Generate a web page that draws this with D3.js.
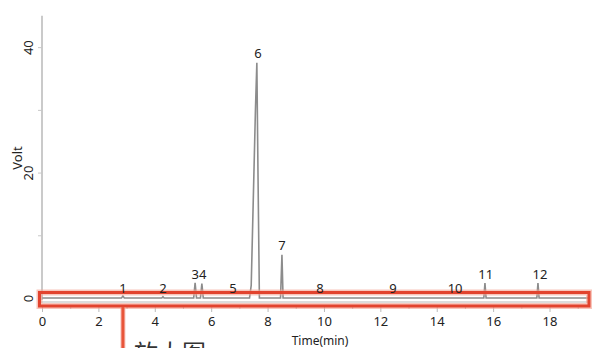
<!DOCTYPE html>
<html><head><meta charset="utf-8">
<script src="https://cdn.jsdelivr.net/npm/d3@7"></script>
<style>body{margin:0;background:#fff;}svg{display:block;}</style>
</head><body>
<script>
// Chromatogram trace points (time in min, signal in Volt)
const traceTime = [0, 2.82, 2.87, 2.92, 4.25, 4.29, 4.33, 5.38, 5.43, 5.48, 5.62, 5.67, 5.72, 7.36, 7.42, 7.57, 7.62, 7.66, 7.71, 8.46, 8.51, 8.55, 15.67, 15.71, 15.75, 17.55, 17.59, 17.63, 19.4];
const traceVolt = [0, 0, 0.3, 0, 0, 0.2, 0, 0, 2.4, 0, 0, 2.3, 0, 0, 2.0, 30, 37.5, 20, 0, 0, 6.9, 0, 0, 2.4, 0, 0, 2.4, 0, 0];
const peakLabels = ["1", "2", "34", "5", "6", "7", "8", "9", "10", "11", "12"];
const labelTime = [2.87, 4.29, 5.57, 6.77, 7.66, 8.51, 9.86, 12.45, 14.65, 15.74, 17.66];
const labelVolt = [0.8, 0.8, 3.0, 0.8, 38.2, 7.7, 0.8, 0.8, 0.8, 3.0, 3.0];
const xTicks = d3.range(0, 20, 1);
const xTickLabels = [0, 2, 4, 6, 8, 10, 12, 14, 16, 18];
const yTicks = [0, 10, 20, 30, 40];
const yTickLabels = [0, 20, 40];
const xTitle = "Time(min)";
const yTitle = "Volt";
const note = "放大图";

const W = 592, H = 348;
const svg = d3.select("body").append("svg").attr("width", W).attr("height", H);
const x = d3.scaleLinear().domain([0, 19.4]).range([42, 589]);
const y = d3.scaleLinear().domain([0, 45]).range([298, 15.8]);
const font = "'Noto Sans', sans-serif";

// y axis
const ya = svg.append("g").attr("transform", "translate(42,0)")
  .call(d3.axisLeft(y).tickValues(yTicks).tickSize(4).tickFormat(d => yTickLabels.includes(d) ? d : ""));
ya.select(".domain").attr("stroke", "#b8b8b8").attr("stroke-width", 1.5).attr("d", `M0,${y(45)}V300`);
ya.selectAll(".tick line").attr("stroke", "#c8c8c8");
ya.selectAll(".tick text").attr("font-family", font).attr("font-size", 13).attr("fill", "#222")
  .attr("transform", "rotate(-90)").attr("x", 0).attr("y", -9).attr("dy", "0").attr("text-anchor", "middle");

// x axis
const xa = svg.append("g").attr("transform", "translate(0,306)")
  .call(d3.axisBottom(x).tickValues(xTicks).tickSize(5).tickFormat(d => xTickLabels.includes(d) ? d : ""));
xa.select(".domain").remove();
xa.selectAll(".tick line").attr("stroke", "#bbb").attr("y2", d => d % 2 === 0 ? 6 : 3);
xa.selectAll(".tick text").attr("font-family", font).attr("font-size", 13).attr("fill", "#222").attr("y", 11);

// axis titles
svg.append("text").attr("x", 320).attr("y", 345).attr("text-anchor", "middle")
  .attr("font-family", font).attr("font-size", 12).attr("fill", "#222").text(xTitle);
svg.append("text").attr("transform", "translate(22,158) rotate(-90)").attr("text-anchor", "middle")
  .attr("font-family", font).attr("font-size", 13).attr("fill", "#222").text(yTitle);

// light axis baseline inside box
svg.append("line").attr("x1", x(0) - 2).attr("x2", x(19.4)).attr("y1", 302).attr("y2", 302)
  .attr("stroke", "#d0d0d0").attr("stroke-width", 1.5);

// trace
const pts = traceTime.map((t, i) => [t, traceVolt[i]]);
svg.append("path").datum(pts)
  .attr("d", d3.line().x(d => x(d[0])).y(d => y(d[1])))
  .attr("fill", "none").attr("stroke", "#8c8c8c").attr("stroke-width", 1.6);

// red highlight box
const bx = 39.5, by = 292.5, bw = 549.5, bh = 13.5;
svg.append("rect").attr("x", bx).attr("y", by).attr("width", bw).attr("height", bh)
  .attr("fill", "none").attr("stroke", "#f4a090").attr("stroke-width", 6).attr("opacity", 0.6);
svg.append("rect").attr("x", bx).attr("y", by).attr("width", bw).attr("height", bh)
  .attr("fill", "none").attr("stroke", "#e2432e").attr("stroke-width", 3);
// callout line
svg.append("line").attr("x1", x(2.87)).attr("x2", x(2.87)).attr("y1", by + bh + 1).attr("y2", H)
  .attr("stroke", "#f4a090").attr("stroke-width", 5).attr("opacity", 0.6);
svg.append("line").attr("x1", x(2.87)).attr("x2", x(2.87)).attr("y1", by + bh + 1).attr("y2", H)
  .attr("stroke", "#e8553a").attr("stroke-width", 3);
svg.append("text").attr("x", 134).attr("y", 362).attr("font-family", "'Noto Sans CJK SC', sans-serif")
  .attr("font-size", 24).attr("fill", "#333").text(note);

// peak labels
svg.append("g").selectAll("text").data(peakLabels).join("text")
  .attr("x", (d, i) => x(labelTime[i])).attr("y", (d, i) => y(labelVolt[i]))
  .attr("text-anchor", "middle").attr("font-family", font).attr("font-size", 13).attr("fill", "#222")
  .text(d => d);
</script>
</body></html>
